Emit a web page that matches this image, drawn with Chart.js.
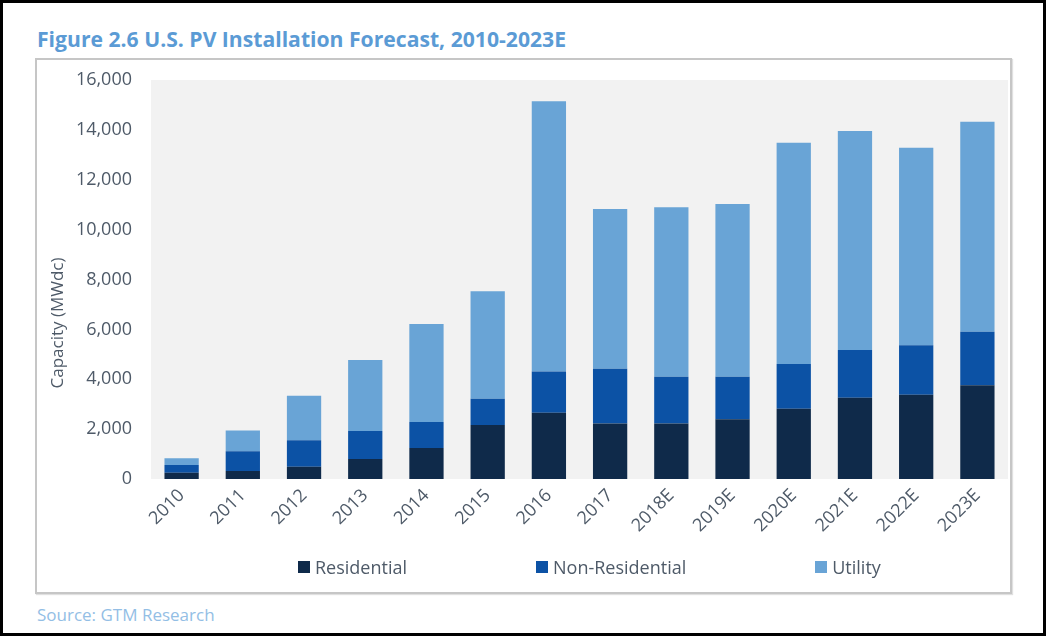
<!DOCTYPE html>
<html>
<head>
<meta charset="utf-8">
<title>U.S. PV Installation Forecast</title>
<script src="https://cdn.jsdelivr.net/npm/chart.js@4.4.1/dist/chart.umd.min.js"></script>
<style>
  html, body { margin: 0; padding: 0; background: #fff; }
  #page {
    position: relative; width: 1046px; height: 636px; box-sizing: border-box;
    border: 3px solid #000; overflow: hidden; font-family: "Open Sans", sans-serif;
  }
  #title {
    position: absolute; left: 34px; top: 24px; white-space: nowrap;
    font-size: 22px; line-height: 22px; font-weight: 700; color: #5b9bd5;
    transform-origin: 0 0;
  }
  #frame {
    position: absolute; left: 32px; top: 55px; width: 977px; height: 536px;
    box-sizing: border-box; border: 2px solid #c6c6c6;
    box-shadow: 1px 1px 1px rgba(0, 0, 0, 0.12);
  }
  #chart { position: absolute; left: 34px; top: 57px; }
  #legend {
    position: absolute; left: 295px; top: 555px; display: flex; gap: 129px;
    font-size: 18px; line-height: 18px; color: #4e5a68;
  }
  #legend .item { display: flex; align-items: center; white-space: nowrap; }
  #legend .box { width: 12px; height: 12px; margin-right: 5px; }
  #source {
    position: absolute; left: 34px; top: 603px; white-space: nowrap;
    font-size: 17px; line-height: 17px; color: #93bee5;
  }
</style>
</head>
<body>
<div id="page">
  <div id="title">Figure 2.6 U.S. PV Installation Forecast, 2010-2023E</div>
  <div id="frame"></div>
  <canvas id="chart" width="973" height="532"></canvas>
  <div id="legend"></div>
  <div id="source">Source: GTM Research</div>
</div>
<script>
// Anos (E = estimativa)
const years = ['2010', '2011', '2012', '2013', '2014', '2015', '2016', '2017',
               '2018E', '2019E', '2020E', '2021E', '2022E', '2023E'];

// Capacidade instalada por segmento (MWdc)
const residential    = [250, 325, 490, 800, 1245, 2165, 2660, 2230, 2230, 2395, 2820, 3260, 3380, 3755];
const nonResidential = [310, 785, 1060, 1125, 1040, 1055, 1650, 2195, 1870, 1705, 1790, 1910, 1980, 2150];
const utility        = [270, 830, 1785, 2845, 3930, 4305, 10835, 6405, 6795, 6925, 8875, 8785, 7925, 8420];

// Eixo Y
const yMax = 16000;
const yStep = 2000;
const yTitle = 'Capacity (MWdc)';

const textColor = '#4e5a68';
const fontFamily = "'Open Sans', sans-serif";

// Título mais estreito, como no original
const titleEl = document.getElementById('title');
titleEl.style.transform = 'scaleX(' + (529 / titleEl.getBoundingClientRect().width) + ')';

Chart.defaults.font.family = fontFamily;
Chart.defaults.color = textColor;

// Fundo cinza da área de plotagem
const plotBackground = {
    id: 'plotBackground',
    beforeDraw(chart) {
        const { ctx, chartArea: a } = chart;
        ctx.save();
        ctx.fillStyle = '#f2f2f2';
        ctx.fillRect(a.left, a.top, a.right - a.left, a.bottom - a.top);
        ctx.restore();
    }
};

// Título do eixo Y, um pouco abaixo do centro
const yAxisTitle = {
    id: 'yAxisTitle',
    afterDraw(chart) {
        const ctx = chart.ctx;
        ctx.save();
        ctx.translate(21, 263);
        ctx.rotate(-Math.PI / 2);
        ctx.font = '17px ' + fontFamily;
        ctx.fillStyle = textColor;
        ctx.textAlign = 'center';
        ctx.textBaseline = 'middle';
        ctx.fillText(yTitle, 0, 0);
        ctx.restore();
    }
};

const chart = new Chart(document.getElementById('chart'), {
    type: 'bar',
    data: {
        labels: years,
        datasets: [
            { label: 'Residential', data: residential, backgroundColor: '#0f2a4a' },
            { label: 'Non-Residential', data: nonResidential, backgroundColor: '#0c52a5' },
            { label: 'Utility', data: utility, backgroundColor: '#69a4d6' }
        ]
    },
    options: {
        responsive: false,
        animation: false,
        devicePixelRatio: 1,
        layout: { padding: { top: 20, right: 2, left: 0, bottom: 0 } },
        datasets: { bar: { categoryPercentage: 1, barPercentage: 0.56 } },
        plugins: {
            legend: { display: false },
            tooltip: { enabled: false }
        },
        scales: {
            x: {
                stacked: true,
                grid: { display: false, drawTicks: false },
                border: { display: false },
                ticks: { minRotation: 45, maxRotation: 45, padding: 6, font: { size: 18 } },
                afterFit(scale) { scale.height = 113; }
            },
            y: {
                stacked: true,
                min: 0,
                max: yMax,
                grid: { display: false, drawTicks: false },
                border: { display: false },
                ticks: {
                    stepSize: yStep,
                    padding: 19,
                    font: { size: 18 },
                    callback: v => v.toLocaleString('en-US')
                },
                afterFit(scale) {
                    // o padding dos ticks não deve empurrar a área do gráfico
                    scale.width = 114;
                    scale.paddingTop = 10;
                    scale.paddingBottom = 10;
                }
            }
        }
    },
    plugins: [plotBackground, yAxisTitle]
});

// Legenda em HTML, com o espaçamento do gráfico original
const legend = document.getElementById('legend');
chart.data.datasets.forEach(ds => {
    const item = document.createElement('div');
    item.className = 'item';
    const box = document.createElement('span');
    box.className = 'box';
    box.style.background = ds.backgroundColor;
    item.appendChild(box);
    item.appendChild(document.createTextNode(ds.label));
    legend.appendChild(item);
});
</script>
</body>
</html>
